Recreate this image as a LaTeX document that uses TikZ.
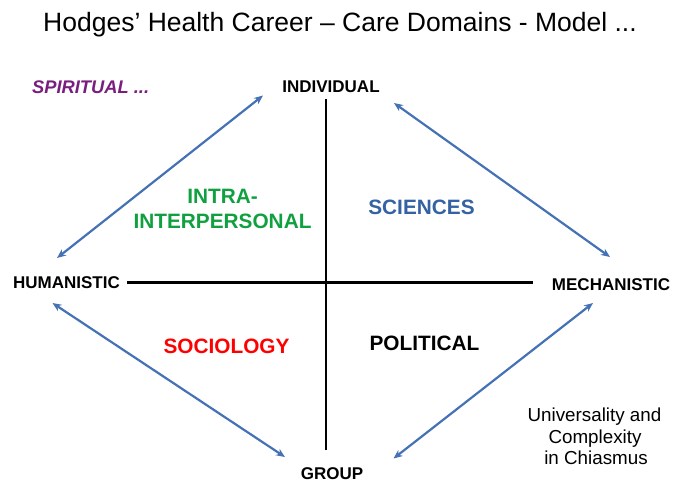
\documentclass[tikz,border=0pt]{standalone}
\usepackage{fontspec}
\setmainfont{Liberation Sans}
\usetikzlibrary{arrows.meta}
\definecolor{arrowblue}{HTML}{4472B4}
\definecolor{scblue}{HTML}{3462A2}
\definecolor{grn}{HTML}{10A040}
\definecolor{purp}{HTML}{7A1E7E}
\tikzset{
  axisline/.style={line width=2.5pt, black},
  linkarrow/.style={line width=2.2pt, arrowblue, {Stealth[length=9pt,width=7.5pt]}-{Stealth[length=9pt,width=7.5pt]}},
  polelabel/.style={font=\fontsize{17}{20}\selectfont\bfseries, anchor=base, inner sep=0pt},
  domlabel/.style={font=\fontsize{20.8}{24}\selectfont\bfseries, anchor=base, inner sep=0pt},
  notetext/.style={font=\fontsize{18.8}{21}\selectfont, anchor=base, inner sep=0pt}
}
\begin{document}
\begin{tikzpicture}[x=1pt,y=-1pt]
\useasboundingbox (0,0) rectangle (680,491);
% title
\node[font=\fontsize{26.5}{30}\selectfont, anchor=base, inner sep=0pt] (title) at (340,31) {Hodges’ Health Career – Care Domains - Model ...};
% axes
\coordinate (vtop) at (326,99);
\coordinate (vbot) at (326,450);
\coordinate (hleft) at (127,282.5);
\coordinate (hright) at (533,282.5);
\draw[axisline] (vtop) -- (vbot);
\draw[axisline] (hleft) -- (hright);
% poles
\node[polelabel] (ind) at (331,92) {INDIVIDUAL};
\node[polelabel] (hum) at (66.5,288.5) {HUMANISTIC};
\node[polelabel] (mech) at (611,290) {MECHANISTIC};
\node[polelabel] (grp) at (332,479) {GROUP};
\node[font=\fontsize{18.3}{20}\selectfont\bfseries\itshape, text=purp, anchor=base west, inner sep=0pt] (spi) at (32,93) {SPIRITUAL ...};
% domains
\node[domlabel, text=grn] (intra) at (222.5,203) {INTRA-};
\node[domlabel, text=grn] (inter) at (222.5,228) {INTERPERSONAL};
\node[domlabel, text=scblue] (sci) at (421.5,214) {SCIENCES};
\node[domlabel, text=red] (soc) at (226.5,353) {SOCIOLOGY};
\node[domlabel] (pol) at (424.5,350) {POLITICAL};
% note
\node[notetext] (n1) at (594.5,421) {Universality and};
\node[notetext] (n2) at (595,443) {Complexity};
\node[notetext] (n3) at (596,464) {in Chiasmus};
% arrows
\coordinate (a1s) at (57,258);
\coordinate (a1e) at (263,95.5);
\coordinate (a2s) at (394,103);
\coordinate (a2e) at (610,257);
\coordinate (a3s) at (52.5,303);
\coordinate (a3e) at (285,457);
\coordinate (a4s) at (593,303);
\coordinate (a4e) at (393.5,458.5);
\draw[linkarrow] (a1s) -- (a1e);
\draw[linkarrow] (a2s) -- (a2e);
\draw[linkarrow] (a3s) -- (a3e);
\draw[linkarrow] (a4s) -- (a4e);
\end{tikzpicture}
\end{document}
